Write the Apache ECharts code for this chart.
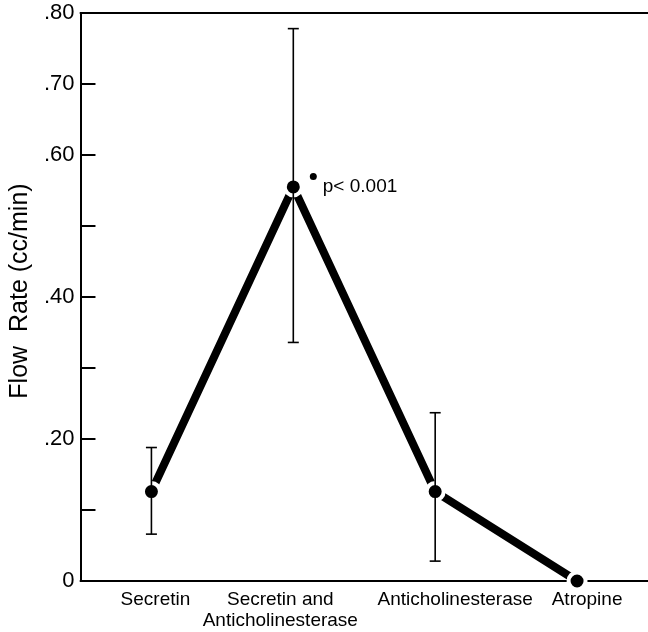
<!DOCTYPE html>
<html>
<head>
<meta charset="utf-8">
<script src="https://cdn.jsdelivr.net/npm/echarts@6/dist/echarts.min.js"></script>
<style>
html,body{margin:0;padding:0;background:#fff;}
#c{width:648px;height:632px;}
</style>
</head>
<body>
<div id="c"></div>
<script>
var categories = ['Secretin', 'Secretin and\nAnticholinesterase', 'Anticholinesterase', 'Atropine'];
var flowRate = [0.126, 0.555, 0.126, 0.0];
var errLow = [0.066, 0.336, 0.028, null];
var errHigh = [0.188, 0.778, 0.237, null];
var yTickLabels = { '0': '0', '0.2': '.20', '0.4': '.40', '0.6': '.60', '0.7': '.70', '0.8': '.80' };
var annotation = 'p< 0.001';
var annotatedIndex = 1;

var FONT = 'Liberation Sans';
// horizontal padding applied to each category label (style only)
var catLabelPad = [[0, 0, 0, 8], [0, 26, 0, 0], [0, 0, 0, 40], [0, 0, 0, 20]];

var chart = echarts.init(document.getElementById('c'), null, { renderer: 'canvas' });

var errData = [];
for (var i = 0; i < categories.length; i++) {
  if (errLow[i] !== null) errData.push([i, errLow[i], errHigh[i]]);
}

var axisData = categories.map(function (c, i) {
  return { value: c, textStyle: { padding: catLabelPad[i] } };
});

var lineData = flowRate.map(function (v, i) {
  if (i !== annotatedIndex) return v;
  return {
    value: v,
    label: {
      show: true,
      position: 'right',
      distance: 6,
      formatter: '{d|}{t|' + annotation + '}',
      rich: {
        d: { width: 7, height: 7, borderRadius: 3.5, backgroundColor: '#000', verticalAlign: 'top' },
        t: { fontFamily: FONT, fontSize: 19, color: '#000', lineHeight: 28, padding: [0, 0, 0, 6], verticalAlign: 'middle' }
      }
    }
  };
});

var option = {
  backgroundColor: '#fff',
  animation: false,
  grid: { left: 79, right: 0, top: 13, bottom: 51, containLabel: false },
  xAxis: [{
    type: 'category',
    data: axisData,
    boundaryGap: true,
    axisLine: { lineStyle: { color: '#000', width: 2 } },
    axisTick: { inside: true, length: 16, alignWithLabel: true, lineStyle: { color: '#000', width: 2 } },
    axisLabel: { color: '#000', fontFamily: FONT, fontSize: 19, margin: 8, lineHeight: 21, interval: 0 },
    splitLine: { show: false }
  }, {
    type: 'category',
    data: categories,
    position: 'top',
    axisLine: { lineStyle: { color: '#000', width: 2 } },
    axisTick: { show: false },
    axisLabel: { show: false }
  }],
  yAxis: {
    type: 'value',
    min: 0,
    max: 0.8,
    interval: 0.1,
    name: 'Flow  Rate (cc/min)',
    nameLocation: 'middle',
    nameGap: 42,
    nameTextStyle: { color: '#000', fontFamily: FONT, fontSize: 25, padding: [0, 0, 0, 12] },
    axisLine: { show: true, lineStyle: { color: '#000', width: 2 } },
    axisTick: { show: true, inside: true, length: 15, lineStyle: { color: '#000', width: 2 } },
    axisLabel: {
      color: '#000', fontFamily: FONT, fontSize: 22, margin: 6,
      formatter: function (v) {
        var k = String(Math.round(v * 10) / 10);
        return yTickLabels[k] !== undefined ? yTickLabels[k] : '';
      }
    },
    splitLine: { show: false }
  },
  series: [{
    type: 'line',
    data: lineData,
    z: 3,
    symbol: 'circle',
    symbolSize: 17,
    lineStyle: { color: '#000', width: 8, cap: 'butt' },
    itemStyle: { color: '#000', borderColor: '#fff', borderWidth: 4 },
    label: { show: false }
  }, {
    type: 'custom',
    z: 4,
    data: errData,
    renderItem: function (params, api) {
      var x = api.value(0);
      var lo = api.coord([x, api.value(1)]);
      var hi = api.coord([x, api.value(2)]);
      var cap = 5.5;
      var st = { stroke: '#000', lineWidth: 1.6 };
      return {
        type: 'group',
        children: [
          { type: 'line', shape: { x1: lo[0], y1: lo[1], x2: hi[0], y2: hi[1] }, style: st },
          { type: 'line', shape: { x1: hi[0] - cap, y1: hi[1], x2: hi[0] + cap, y2: hi[1] }, style: st },
          { type: 'line', shape: { x1: lo[0] - cap, y1: lo[1], x2: lo[0] + cap, y2: lo[1] }, style: st }
        ]
      };
    }
  }]
};
chart.setOption(option);
</script>
</body>
</html>
